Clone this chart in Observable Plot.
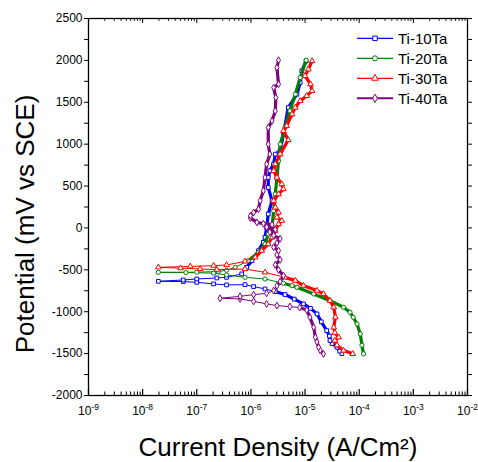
<!DOCTYPE html>
<html><head><meta charset="utf-8">
<script src="https://cdn.jsdelivr.net/npm/d3@7"></script>
<script src="https://cdn.jsdelivr.net/npm/@observablehq/plot@0.6"></script>
<style>
body{margin:0;background:#fff;}
#chart{position:relative;width:478px;height:462px;font-family:"Liberation Sans",Arial,sans-serif;background:#fff;}
#legend{position:absolute;left:350px;top:25px;}
</style></head><body><div id="chart"></div>
<script>
// Series
const seriesNames = ["Ti-10Ta", "Ti-20Ta", "Ti-30Ta", "Ti-40Ta"];
const seriesColors = ["#0000ff", "#008000", "#ff0000", "#800080"];
const seriesSymbols = ["square", "circle", "triangle", "diamond"];

// log10 of current density (A/cm²), in scan order (cathodic -1500 mV -> Ecorr -> anodic 2000 mV)
const ti10LogI = [-4.32,-4.36,-4.41,-4.50,-4.54,-4.55,-4.60,-4.70,-4.78,-4.90,-5.03,-5.20,-5.37,-5.55,-5.74,-5.95,-6.11,-6.45,-6.69,-7.00,-7.25,-7.71,
  -7.25,-7.00,-6.63,-6.45,-6.17,-6.08,-5.98,-5.86,-5.77,-5.74,-5.71,-5.68,-5.61,-5.68,-5.68,-5.65,-5.58,-5.55,-5.46,-5.40,-5.31,-5.15,-5.09,-5.06,-4.98];
const ti10E = [-1500,-1470,-1424,-1380,-1344,-1290,-1225,-1120,-1026,-960,-907,-850,-795,-760,-728,-700,-677,-680,-668,-649,-640,-637,
  -621,-609,-597,-590,-549,-470,-391,-271,-172,-113,6,166,325,483,602,682,762,881,921,1120,1437,1596,1735,1874,1993];

const ti20LogI = [-3.92,-3.95,-3.98,-4.04,-4.11,-4.17,-4.29,-4.54,-4.84,-5.15,-5.24,-5.40,-5.74,-6.11,-6.45,-6.69,-7.20,-7.71,
  -7.00,-6.60,-6.45,-6.29,-6.05,-5.86,-5.74,-5.68,-5.61,-5.58,-5.55,-5.52,-5.49,-5.46,-5.37,-5.28,-5.18,-5.09,-4.98];
const ti20E = [-1503,-1400,-1265,-1146,-1066,-1007,-947,-868,-788,-709,-689,-660,-609,-590,-561,-540,-532,-530,
  -528,-520,-505,-470,-391,-292,-192,-73,20,205,404,602,801,1000,1198,1397,1596,1794,2002];

const ti30LogI = [-4.12,-4.29,-4.41,-4.45,-4.38,-4.45,-4.47,-4.44,-4.47,-4.54,-4.66,-4.78,-5.03,-5.18,-5.37,-5.74,-6.11,-6.63,-6.94,-7.30,-7.71,
  -7.12,-6.69,-6.45,-6.11,-5.92,-5.80,-5.68,-5.61,-5.55,-5.49,-5.43,-5.52,-5.49,-5.55,-5.58,-5.49,-5.40,-5.43,-5.52,-5.58,-5.55,-5.46,-5.31,-5.40,-5.34,-5.24,-5.18,-5.09,-4.97,-4.87,-4.90,-5.00,-4.94,-4.87];
const ti30E = [-1503,-1463,-1400,-1344,-1305,-1250,-1186,-1066,-947,-868,-788,-748,-689,-629,-590,-530,-490,-498,-490,-480,-470,
  -459,-450,-442,-399,-351,-271,-192,-113,-33,47,86,126,185,245,325,404,464,523,602,682,762,881,1050,1159,1219,1358,1437,1517,1576,1636,1716,1815,1894,1993];

const ti40LogI = [-4.66,-4.72,-4.75,-4.78,-4.81,-4.84,-4.91,-4.97,-5.10,-5.28,-5.52,-5.71,-5.95,-6.20,-6.57,
  -6.20,-5.95,-5.71,-5.58,-5.52,-5.46,-5.40,-5.49,-5.55,-5.46,-5.52,-5.49,-5.58,-5.52,-5.46,-5.58,-5.65,-5.55,-5.71,-5.61,-5.77,-5.89,-6.01,-6.01,-5.95,-5.86,-5.83,-5.77,-5.74,-5.71,-5.65,-5.68,-5.68,-5.61,-5.55,-5.54,-5.58,-5.49,-5.52,-5.49];
const ti40E = [-1503,-1460,-1424,-1360,-1305,-1186,-1066,-980,-950,-939,-927,-907,-876,-847,-840,
  -816,-796,-780,-748,-690,-640,-570,-500,-440,-380,-320,-271,-230,-180,-130,-90,-50,-20,10,40,50,66,120,146,185,225,325,444,602,762,881,1000,1198,1278,1397,1556,1675,1716,1914,2002];

// Axes
const xTickExponents = [-9, -8, -7, -6, -5, -4, -3, -2];
const yTickLabels = [-2000, -1500, -1000, -500, 0, 500, 1000, 1500, 2000, 2500];
const xLabel = "Current Density (A/Cm²)";
const yLabel = "Potential (mV vs SCE)";

const logs = [ti10LogI, ti20LogI, ti30LogI, ti40LogI];
const pots = [ti10E, ti20E, ti30E, ti40E];

const series = seriesNames.map((name, k) => {
  const L = logs[k], E = pots[k];
  const iMin = d3.minIndex(L);
  const ecorr = E[iMin];
  const rows = L.map((l, i) => ({series: name, I: Math.pow(10, l), E: E[i], dense: Math.abs(E[i] - ecorr) > 100}));
  return {name, color: seriesColors[k], symbol: seriesSymbols[k], rows};
});

const W = 478, H = 462;
const M = {top: 18, right: 11, bottom: 67, left: 88};
const plotH = H - M.top - M.bottom;
const decades = xTickExponents.map(e => Math.pow(10, e));
const minorX = decades.slice(0, -1).flatMap(d => d3.range(2, 10).map(k => k * d));
const yAll = d3.range(yTickLabels[0], yTickLabels[yTickLabels.length - 1] + 1, 250);

const marks = [];
series.forEach(s => {
  marks.push(Plot.line(s.rows, {x: "I", y: "E", stroke: s.color, strokeWidth: 1}));
  marks.push(Plot.line(s.rows, {x: "I", y: d => d.dense ? d.E : NaN, stroke: s.color, strokeWidth: 3.2}));
  marks.push(Plot.dot(s.rows, {x: "I", y: "E", symbol: s.symbol, stroke: s.color, fill: "white", r: 2.1, strokeWidth: 1}));
});

const plot = Plot.plot({
  width: W, height: H,
  marginTop: M.top, marginRight: M.right, marginBottom: M.bottom, marginLeft: M.left,
  style: {fontFamily: "'Liberation Sans', Arial, sans-serif", fontSize: "12px", background: "white", color: "black", overflow: "visible"},
  x: {type: "log", domain: [decades[0], decades[decades.length - 1]]},
  y: {domain: [yTickLabels[0], yTickLabels[yTickLabels.length - 1]]},
  marks: [
    ...marks,
    Plot.frame({stroke: "black", strokeWidth: 1.3}),
    Plot.axisY({ticks: yAll, tickSize: 4, tickPadding: 2, tickFormat: d => yTickLabels.includes(d) ? String(d) : "", label: null, fontSize: 12}),
    Plot.axisY({anchor: "right", ticks: yAll, tickSize: 4, tickFormat: () => "", label: null}),
    Plot.axisX({ticks: decades, tickSize: 0, tickPadding: 11, tickFormat: d => "10^" + Math.round(Math.log10(d)), label: null, fontSize: 12}),
    Plot.tickX(decades, {x: d => d, insetTop: plotH - 6, stroke: "black", strokeWidth: 1.2}),
    Plot.tickX(minorX, {x: d => d, insetTop: plotH - 3.5, stroke: "black", strokeWidth: 1}),
    Plot.tickX(decades, {x: d => d, insetBottom: plotH - 5, stroke: "black", strokeWidth: 1}),
    Plot.tickX(minorX, {x: d => d, insetBottom: plotH - 3, stroke: "black", strokeWidth: 0.8}),
    Plot.text([xLabel], {text: d => d, frameAnchor: "bottom", textAnchor: "middle", dy: 52, fontSize: 26, lineAnchor: "middle"}),
    Plot.text([yLabel], {text: d => d, frameAnchor: "left", textAnchor: "middle", rotate: -90, dx: -63, dy: 17, fontSize: 26, lineAnchor: "middle"})
  ]
});

// superscript exponents on the x tick labels
d3.select(plot).selectAll('g[aria-label="x-axis tick label"] text').each(function () {
  const s = this.textContent;
  if (s.startsWith("10^")) {
    const e = s.slice(3);
    const t = d3.select(this);
    t.text("10");
    t.append("tspan").attr("dy", "-0.55em").attr("font-size", "8.5px").text(e);
  }
});

const chart = document.getElementById("chart");
chart.appendChild(plot);

// Legend
const leg = d3.create("svg").attr("id", "legend").attr("width", 128).attr("height", 90);
seriesNames.forEach((name, i) => {
  const y = 13.3 + 20 * i;
  const g = leg.append("g").attr("transform", `translate(0,${y})`);
  g.append("line").attr("x1", 7).attr("x2", 43).attr("y1", 0).attr("y2", 0).attr("stroke", seriesColors[i]).attr("stroke-width", i === 3 ? 2 : 1.2);
  const symType = {square: d3.symbolSquare, circle: d3.symbolCircle, triangle: d3.symbolTriangle, diamond: d3.symbolDiamond}[seriesSymbols[i]];
  g.append("path").attr("d", d3.symbol(symType, 20)()).attr("transform", "translate(25,0)").attr("fill", "white").attr("stroke", seriesColors[i]).attr("stroke-width", 1);
  g.append("text").attr("x", 48).attr("y", 0).attr("dy", "0.35em").attr("font-size", 15).attr("font-family", "'Liberation Sans', Arial, sans-serif").text(name);
});
chart.appendChild(leg.node());
</script>
</body></html>
